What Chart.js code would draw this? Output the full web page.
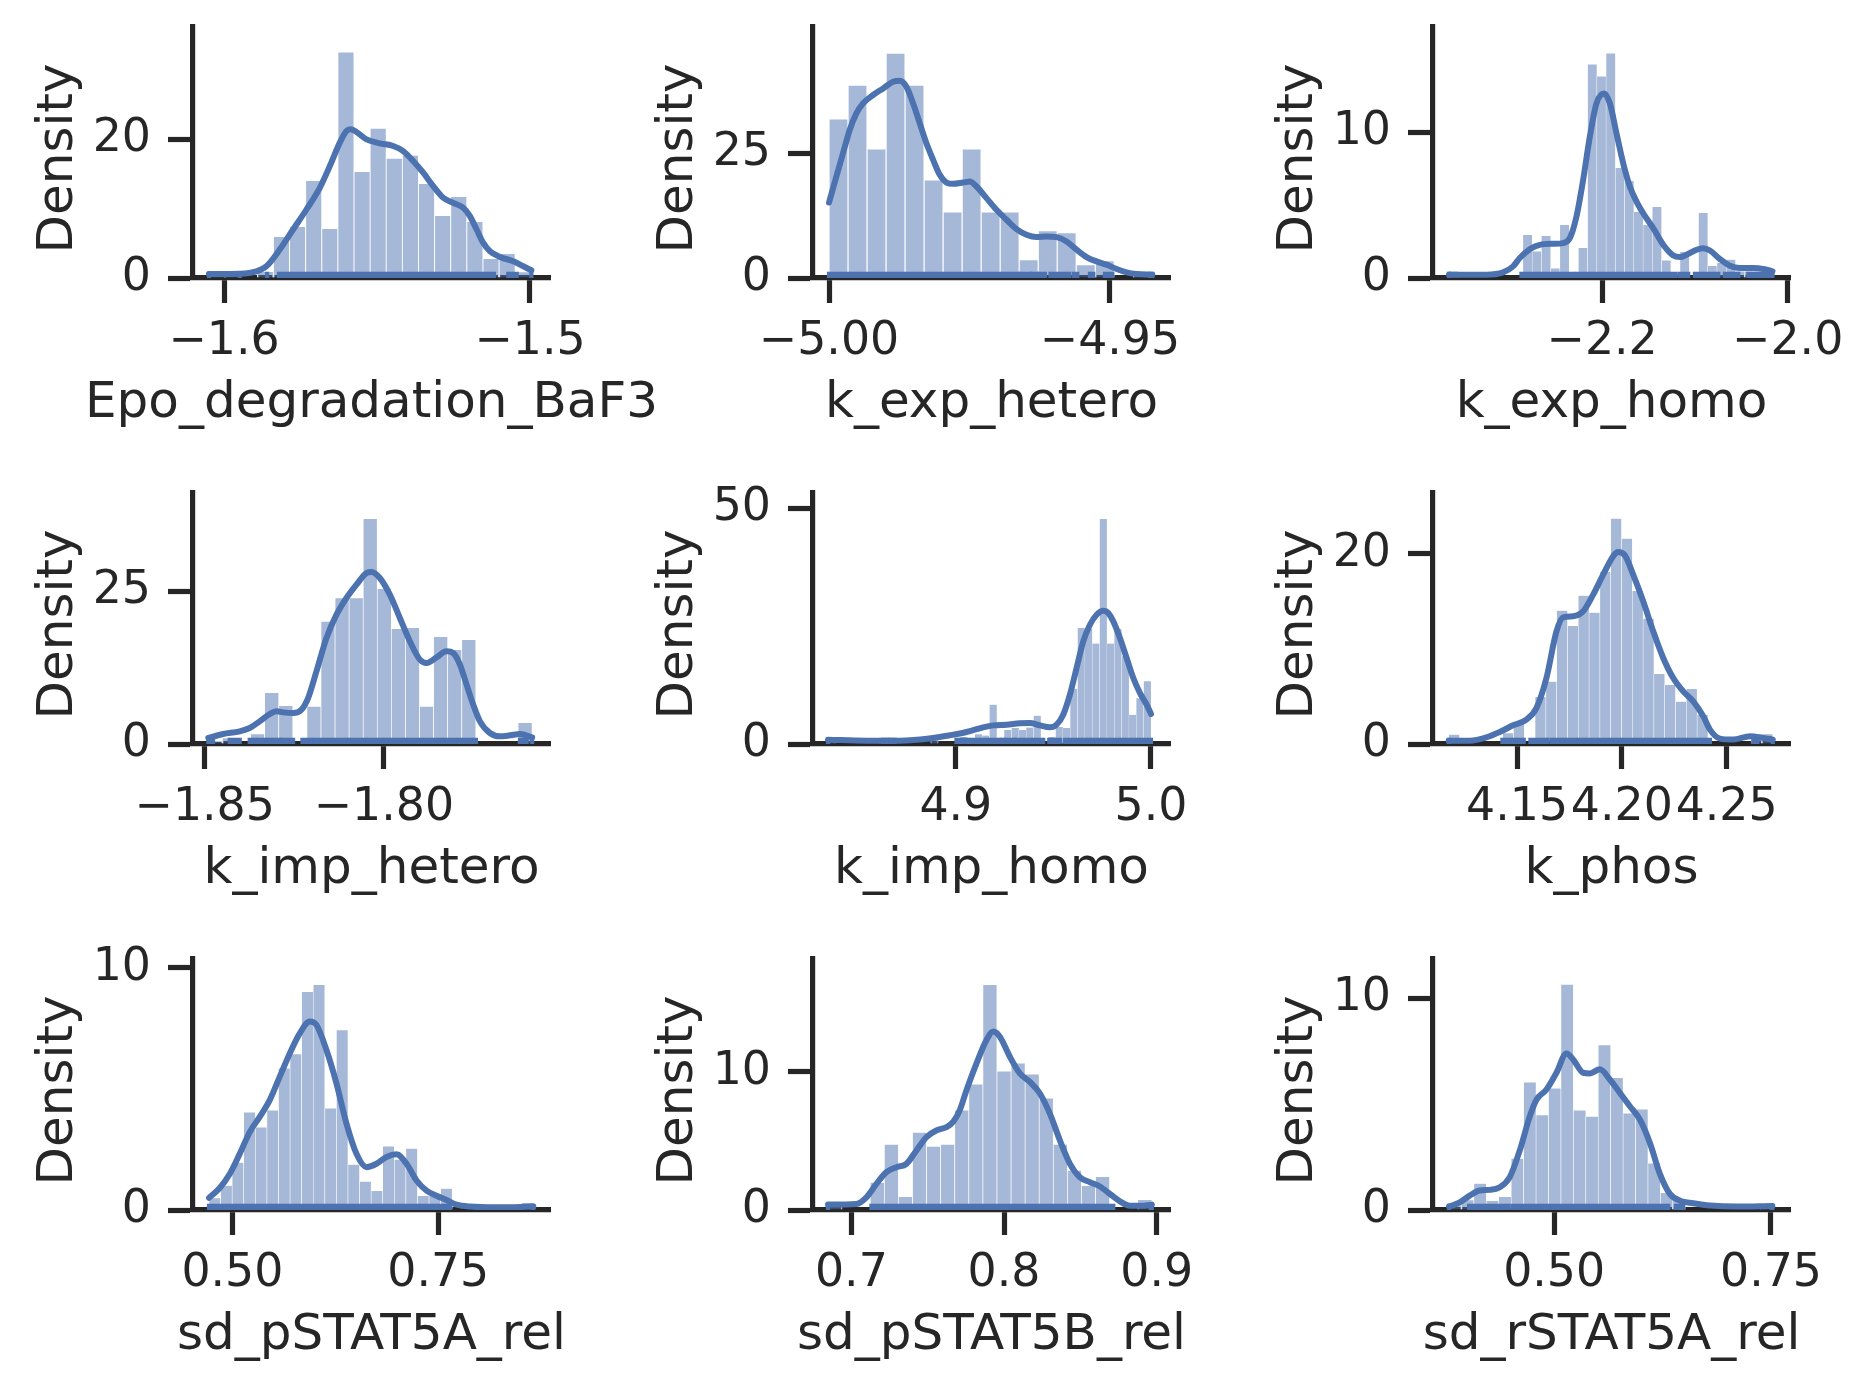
<!DOCTYPE html>
<html>
<head>
<meta charset="utf-8">
<script src="https://cdn.jsdelivr.net/npm/chart.js@4.4.1/dist/chart.umd.min.js"></script>
<style>
  html, body { margin: 0; padding: 0; background: #fff; }
  body { width: 1872px; height: 1391px; position: relative; overflow: hidden; }
  canvas { position: absolute; }
</style>
</head>
<body>
<script>
// ---- Epo_degradation_BaF3 ----
const epoBins = [-1.60493, 0.005268];          // first bin edge, bin width
const epoDensity = [0.93, 0.93, 0, 0.93, 5.98, 7.42, 14.07, 7.13, 32.58, 15.37, 21.59, 17.25, 17.69, 13.64, 9.01, 11.76, 8.14, 2.80, 3.52, 0.9];
const epoKdeX = [-1.60493, -1.59487, -1.58942, -1.58615, -1.58179, -1.57743, -1.57306, -1.56870, -1.56543, -1.56216, -1.55998, -1.55867, -1.55671, -1.55344, -1.54907, -1.54471, -1.54144, -1.53817, -1.53490, -1.53162, -1.52835, -1.52508, -1.52181, -1.51963, -1.51745, -1.51527, -1.51309, -1.50981, -1.50545, -1.50218, -1.49956];
const epoKdeY = [0.58, 0.63, 0.96, 1.69, 4.10, 6.99, 9.88, 13.01, 16.14, 19.52, 21.20, 21.45, 21.06, 20.0, 19.42, 19.04, 18.31, 16.87, 15.18, 13.25, 11.57, 10.84, 10.12, 8.92, 6.99, 5.06, 3.86, 3.04, 2.41, 1.69, 1.11];
const epoRug = [[-1.60493, -1.60493], [-1.59487, -1.59487], [-1.58593, -1.58593], [-1.58201, -1.51178], [-1.50709, -1.50436], [-1.49956, -1.49956]];
const epoXRange = [-1.61014, -1.49346];
const epoYMax = 36.2;
const epoXTicks = [-1.6, -1.5];
const epoXLabels = ['\u22121.6', '\u22121.5'];
const epoYTicks = [0, 20];

// ---- k_exp_hetero ----
const expHetBins = [-5.0, 0.003385];
const expHetDensity = [31.87, 38.67, 25.87, 45.07, 38.67, 19.67, 13.27, 25.87, 13.27, 13.27, 3.67, 9.47, 9.07, 2.67, 3.47, 0, 0.9];
const expHetKdeX = [-5.00000, -4.99869, -4.99751, -4.99632, -4.99513, -4.99394, -4.99216, -4.99038, -4.98860, -4.98741, -4.98622, -4.98504, -4.98385, -4.98266, -4.98147, -4.98029, -4.97910, -4.97791, -4.97613, -4.97494, -4.97375, -4.97197, -4.97019, -4.96841, -4.96663, -4.96485, -4.96306, -4.96128, -4.95950, -4.95772, -4.95594, -4.95416, -4.95238, -4.95059, -4.94881, -4.94703, -4.94525, -4.94246];
const expHetKdeY = [15.13, 20.33, 25.0, 29.67, 33.0, 35.0, 36.67, 38.0, 39.33, 39.53, 38.33, 35.0, 31.0, 27.0, 23.67, 20.67, 19.13, 18.87, 19.13, 19.33, 18.33, 16.0, 13.67, 11.67, 9.8, 8.67, 8.2, 8.33, 8.2, 7.33, 5.67, 4.2, 3.33, 2.67, 1.8, 1.13, 0.8, 0.67];
const expHetRug = [[-5.0, -4.96633], [-4.96591, -4.96425], [-4.96384, -4.96295], [-4.96259, -4.96158], [-4.96057, -4.95724], [-4.95641, -4.95582], [-4.95356, -4.95297], [-4.95089, -4.94958], [-4.94287, -4.94246]];
const expHetXRange = [-5.00285, -4.93931];
const expHetYMax = 50.3;
const expHetXTicks = [-5.0, -4.95];
const expHetXLabels = ['\u22125.00', '\u22124.95'];
const expHetYTicks = [0, 25];

// ---- k_exp_homo ----
const expHomBins = [-2.36511, 0.009964];
const expHomDensity = [0.45, 0, 0, 0, 0, 0, 0, 0, 2.97, 1.83, 2.90, 0.66, 3.65, 0, 2.08, 14.68, 13.86, 15.43, 7.56, 6.67, 4.54, 3.65, 4.89, 1.21, 0, 1.80, 0, 4.47, 0.84, 1.05, 1.26, 0.45, 0.45, 0.45, 0.45];
const expHomKdeX = [-2.36511, -2.32482, -2.30683, -2.29604, -2.28885, -2.27806, -2.26727, -2.25288, -2.24209, -2.23489, -2.22770, -2.22050, -2.21331, -2.20612, -2.19784, -2.19173, -2.18453, -2.17734, -2.17014, -2.16295, -2.15576, -2.14496, -2.13417, -2.12338, -2.11619, -2.10899, -2.09820, -2.09101, -2.08381, -2.07302, -2.06223, -2.05144, -2.03705, -2.02626, -2.01637];
const expHomKdeY = [0.23, 0.23, 0.39, 0.80, 1.37, 1.98, 2.28, 2.35, 2.40, 2.74, 4.22, 6.74, 9.70, 12.0, 12.67, 12.0, 9.93, 7.88, 6.28, 5.25, 4.45, 3.42, 2.28, 1.55, 1.44, 1.60, 1.94, 2.05, 1.89, 1.30, 0.84, 0.68, 0.68, 0.62, 0.46];
const expHomRug = [[-2.36511, -2.36511], [-2.28705, -2.23129], [-2.22770, -2.13417], [-2.13058, -2.12158], [-2.11691, -2.10719], [-2.10000, -2.07482], [-2.06763, -2.06223], [-2.05863, -2.05324], [-2.04245, -2.01637]];
const expHomXRange = [-2.38237, -1.99748];
const expHomYMax = 17.24;
const expHomXTicks = [-2.2, -2.0];
const expHomXLabels = ['\u22122.2', '\u22122.0'];
const expHomYTicks = [0, 10];

// ---- k_imp_hetero ----
const impHetBins = [-1.84898, 0.003929];
const impHetDensity = [0.5, 1.0, 0, 1.64, 8.41, 6.28, 0, 6.17, 20.09, 23.91, 23.91, 36.9, 25.44, 18.89, 19.05, 6.17, 17.58, 15.45, 17.09, 0, 0, 0, 3.49];
const impHetKdeX = [-1.84898, -1.84488, -1.84022, -1.83743, -1.83464, -1.83184, -1.82998, -1.82812, -1.82533, -1.82300, -1.82114, -1.81881, -1.81601, -1.81322, -1.81043, -1.80764, -1.80484, -1.80345, -1.80112, -1.79832, -1.79553, -1.79274, -1.78994, -1.78808, -1.78529, -1.78250, -1.78063, -1.77877, -1.77691, -1.77505, -1.77318, -1.77039, -1.76760, -1.76480, -1.76201, -1.75861];
const impHetKdeY = [0.98, 1.64, 2.07, 2.62, 3.71, 4.91, 5.35, 5.18, 5.07, 5.62, 7.53, 11.9, 17.36, 21.18, 23.91, 26.09, 28.0, 28.17, 27.18, 24.45, 20.63, 16.81, 13.81, 13.26, 14.19, 15.17, 14.9, 12.99, 9.72, 6.44, 3.71, 1.80, 1.26, 1.42, 1.64, 1.09];
const impHetRug = [[-1.84898, -1.84767], [-1.84302, -1.84022], [-1.83743, -1.83603], [-1.83510, -1.83324], [-1.83231, -1.82905], [-1.82831, -1.82533], [-1.82272, -1.82020], [-1.81927, -1.77430], [-1.76201, -1.76015], [-1.75861, -1.75861]];
const impHetXRange = [-1.85326, -1.75363];
const impHetYMax = 41.1;
const impHetXTicks = [-1.85, -1.80];
const impHetXLabels = ['\u22121.85', '\u22121.80'];
const impHetYTicks = [0, 25];

// ---- k_imp_homo ----
const impHomBins = [4.83453, 0.003761];
const impHomDensity = [1.33, 0, 0, 0, 0, 0, 0, 1.33, 1.33, 0, 0, 0, 0, 0, 1.77, 0, 0, 0, 1.5, 0, 2.1, 1.8, 8.33, 0, 3.0, 3.4, 3.0, 3.5, 6.0, 0, 1.5, 3.6, 3.4, 11.7, 24.6, 24.4, 21.3, 47.7, 21.3, 24.4, 18.6, 6.2, 9.7, 13.3];
const impHomKdeX = [4.83453, 4.85419, 4.87128, 4.88838, 4.89692, 4.90547, 4.91402, 4.91915, 4.92598, 4.93282, 4.93795, 4.94308, 4.94821, 4.95162, 4.95504, 4.95846, 4.96188, 4.96530, 4.96872, 4.97214, 4.97556, 4.97812, 4.98068, 4.98410, 4.98752, 4.99094, 4.99436, 4.99778, 5.0];
const impHomKdeY = [0.92, 0.71, 0.71, 1.27, 1.84, 2.54, 3.53, 3.95, 4.10, 4.38, 4.45, 3.95, 3.53, 4.10, 6.21, 10.45, 16.1, 21.75, 25.28, 27.4, 28.25, 27.75, 25.99, 22.46, 18.22, 13.98, 10.8, 8.33, 6.36];
const impHomRug = [[4.83453, 4.83453], [4.86274, 4.86479], [4.86650, 4.86872], [4.90034, 4.90376], [4.90462, 4.92256], [4.92342, 4.92462], [4.92564, 4.92974], [4.93077, 4.94479], [4.94786, 4.95333], [4.95590, 5.0]];
const impHomXRange = [4.82684, 5.00974];
const impHomYMax = 53.2;
const impHomXTicks = [4.9, 5.0];
const impHomXLabels = ['4.9', '5.0'];
const impHomYTicks = [0, 50];

// ---- k_phos ----
const phosBins = [4.11736, 0.005155];
const phosDensity = [1.0, 0, 0, 0, 0, 1.16, 2.31, 0, 4.97, 6.55, 14.01, 12.43, 15.59, 13.8, 18.11, 23.68, 21.58, 16.11, 13.17, 7.39, 6.23, 4.45, 5.81, 3.08, 0, 0, 0, 0, 1.05, 1.05];
const phosKdeX = [4.11736, 4.12739, 4.13535, 4.14172, 4.14809, 4.15446, 4.15924, 4.16401, 4.16879, 4.17197, 4.17675, 4.18153, 4.18631, 4.19108, 4.19586, 4.19825, 4.20143, 4.20541, 4.21019, 4.21497, 4.21975, 4.22452, 4.22930, 4.23408, 4.23885, 4.24204, 4.24682, 4.25318, 4.26115, 4.26752, 4.27201];
const phosKdeY = [0.35, 0.35, 0.70, 1.26, 1.96, 2.56, 3.78, 6.93, 11.84, 13.31, 13.42, 13.94, 15.69, 17.79, 19.72, 20.17, 19.82, 17.79, 14.99, 11.84, 9.04, 6.93, 5.53, 4.48, 2.91, 1.51, 0.56, 0.46, 0.81, 0.63, 0.46];
const phosRug = [[4.11736, 4.11736], [4.14299, 4.14682], [4.14841, 4.15318], [4.15637, 4.16433], [4.16640, 4.24204], [4.26274, 4.26465], [4.27201, 4.27201]];
const phosXRange = [4.10987, 4.28025];
const phosYMax = 26.37;
const phosXTicks = [4.15, 4.20, 4.25];
const phosXLabels = ['4.15', '4.20', '4.25'];
const phosYTicks = [0, 20];

// ---- sd_pSTAT5A_rel ----
const sdABins = [0.47164, 0.014064];
const sdADensity = [0.5, 1.01, 1.96, 4.04, 3.42, 4.12, 5.86, 6.45, 9.02, 9.31, 4.20, 7.44, 1.88, 1.18, 0.80, 2.63, 2.09, 2.54, 0.59, 0.59, 0.89, 0, 0, 0, 0, 0, 0, 0.3];
const sdAKdeX = [0.47164, 0.48460, 0.49676, 0.50891, 0.52107, 0.53323, 0.54538, 0.55754, 0.56969, 0.58185, 0.59400, 0.60211, 0.61426, 0.62642, 0.63857, 0.65073, 0.66288, 0.67504, 0.68720, 0.69935, 0.71151, 0.72366, 0.73582, 0.74797, 0.76013, 0.77229, 0.78849, 0.82091, 0.86543];
const sdAKdeY = [0.50, 0.91, 1.49, 2.32, 3.22, 3.85, 4.54, 5.51, 6.47, 7.30, 7.79, 7.65, 6.61, 5.23, 3.57, 2.32, 1.77, 1.91, 2.19, 2.30, 1.91, 1.22, 0.80, 0.59, 0.41, 0.22, 0.14, 0.11, 0.14];
const sdARug = [[0.47164, 0.76418], [0.86543, 0.86543]];
const sdAXRange = [0.45219, 0.88574];
const sdAYMax = 10.37;
const sdAXTicks = [0.5, 0.75];
const sdAXLabels = ['0.50', '0.75'];
const sdAYTicks = [0, 10];

// ---- sd_pSTAT5B_rel ----
const sdBBins = [0.68470, 0.009224];
const sdBDensity = [0.6, 0, 0, 1.99, 4.75, 0.97, 5.62, 4.60, 4.75, 7.22, 9.10, 16.30, 10.05, 10.63, 9.83, 8.09, 4.75, 2.86, 1.77, 2.42, 0, 0, 0.75];
const sdBKdeX = [0.68470, 0.70328, 0.70984, 0.71639, 0.72295, 0.72951, 0.73607, 0.74262, 0.74918, 0.75574, 0.76230, 0.76667, 0.77104, 0.77541, 0.78197, 0.78852, 0.79290, 0.79727, 0.80383, 0.81038, 0.81694, 0.82350, 0.83005, 0.83661, 0.84317, 0.84973, 0.85628, 0.86284, 0.86940, 0.87596, 0.88251, 0.89126, 0.89685];
const sdBKdeY = [0.39, 0.44, 0.92, 1.89, 2.74, 3.10, 3.34, 4.31, 5.28, 5.76, 6.00, 6.37, 7.22, 8.67, 10.61, 12.30, 12.91, 12.54, 11.09, 9.88, 9.27, 8.43, 6.97, 5.04, 3.34, 2.37, 2.01, 1.70, 1.16, 0.63, 0.31, 0.31, 0.39];
const sdBRug = [[0.68470, 0.68470], [0.71311, 0.87158], [0.89607, 0.89685]];
const sdBXRange = [0.67486, 0.90874];
const sdBYMax = 18.16;
const sdBXTicks = [0.7, 0.8, 0.9];
const sdBXLabels = ['0.7', '0.8', '0.9'];
const sdBYTicks = [0, 10];

// ---- sd_rSTAT5A_rel ----
const sdRBins = [0.37885, 0.014335];
const sdRDensity = [0.22, 0.47, 1.25, 0.44, 0.63, 2.43, 6.03, 4.49, 5.75, 10.65, 4.71, 4.42, 7.79, 6.24, 4.57, 4.76, 2.21, 0.82, 0.47, 0, 0, 0, 0, 0, 0, 0.22];
const sdRKdeX = [0.37885, 0.39115, 0.40269, 0.41423, 0.42577, 0.43731, 0.44885, 0.46038, 0.47192, 0.47962, 0.49115, 0.50269, 0.51423, 0.52192, 0.53346, 0.54115, 0.55269, 0.56423, 0.57577, 0.58731, 0.59885, 0.61038, 0.62192, 0.63346, 0.64500, 0.66038, 0.67962, 0.71038, 0.75156];
const sdRKdeY = [0.16, 0.36, 0.68, 0.92, 0.95, 1.07, 1.55, 2.81, 4.42, 5.21, 5.69, 6.48, 7.39, 7.11, 6.48, 6.45, 6.64, 6.16, 5.53, 4.90, 4.27, 3.17, 1.71, 0.76, 0.44, 0.32, 0.21, 0.16, 0.19];
const sdRRug = [[0.37885, 0.37885], [0.40192, 0.44692], [0.45192, 0.63154], [0.64038, 0.64885], [0.75077, 0.75156]];
const sdRXRange = [0.36038, 0.77192];
const sdRYMax = 11.85;
const sdRXTicks = [0.5, 0.75];
const sdRXLabels = ['0.50', '0.75'];
const sdRYTicks = [0, 10];

// ---- styling / layout ----
const INK = '#262626';
const BLUE = '#4c72b0';
const BAR_FILL = 'rgba(76, 114, 176, 0.5)';
const FONT = 'DejaVu Sans';

const colLeft = [193, 813, 1433];
const rowTop = [27, 493, 959];
const AX_W = 357, AX_H = 251;
const Y_W = 175, PAD_T = 60, PAD_R = 140, X_H = 170;

const panels = [
  { label: 'Epo_degradation_BaF3', bins: epoBins, dens: epoDensity, kx: epoKdeX, ky: epoKdeY, rug: epoRug, xr: epoXRange, ymax: epoYMax, xt: epoXTicks, xl: epoXLabels, yt: epoYTicks, edge: 0.8 },
  { label: 'k_exp_hetero', bins: expHetBins, dens: expHetDensity, kx: expHetKdeX, ky: expHetKdeY, rug: expHetRug, xr: expHetXRange, ymax: expHetYMax, xt: expHetXTicks, xl: expHetXLabels, yt: expHetYTicks, edge: 0.95 },
  { label: 'k_exp_homo', bins: expHomBins, dens: expHomDensity, kx: expHomKdeX, ky: expHomKdeY, rug: expHomRug, xr: expHomXRange, ymax: expHomYMax, xt: expHomXTicks, xl: expHomXLabels, yt: expHomYTicks, edge: 0.5 },
  { label: 'k_imp_hetero', bins: impHetBins, dens: impHetDensity, kx: impHetKdeX, ky: impHetKdeY, rug: impHetRug, xr: impHetXRange, ymax: impHetYMax, xt: impHetXTicks, xl: impHetXLabels, yt: impHetYTicks, edge: 0.7 },
  { label: 'k_imp_homo', bins: impHomBins, dens: impHomDensity, kx: impHomKdeX, ky: impHomKdeY, rug: impHomRug, xr: impHomXRange, ymax: impHomYMax, xt: impHomXTicks, xl: impHomXLabels, yt: impHomYTicks, edge: 0.4 },
  { label: 'k_phos', bins: phosBins, dens: phosDensity, kx: phosKdeX, ky: phosKdeY, rug: phosRug, xr: phosXRange, ymax: phosYMax, xt: phosXTicks, xl: phosXLabels, yt: phosYTicks, edge: 0.55 },
  { label: 'sd_pSTAT5A_rel', bins: sdABins, dens: sdADensity, kx: sdAKdeX, ky: sdAKdeY, rug: sdARug, xr: sdAXRange, ymax: sdAYMax, xt: sdAXTicks, xl: sdAXLabels, yt: sdAYTicks, edge: 0.6 },
  { label: 'sd_pSTAT5B_rel', bins: sdBBins, dens: sdBDensity, kx: sdBKdeX, ky: sdBKdeY, rug: sdBRug, xr: sdBXRange, ymax: sdBYMax, xt: sdBXTicks, xl: sdBXLabels, yt: sdBYTicks, edge: 0.7 },
  { label: 'sd_rSTAT5A_rel', bins: sdRBins, dens: sdRDensity, kx: sdRKdeX, ky: sdRKdeY, rug: sdRRug, xr: sdRXRange, ymax: sdRYMax, xt: sdRXTicks, xl: sdRXLabels, yt: sdRYTicks, edge: 0.6 },
];

// rug ticks along the bottom of the axes (2.5% of axes height)
function rugPlugin(ranges) {
  return {
    id: 'rug',
    afterDatasetsDraw(chart) {
      const { ctx, chartArea: a, scales: { x } } = chart;
      const h = (a.bottom - a.top) * 0.025;
      ctx.save();
      ctx.beginPath();
      ctx.rect(a.left, a.top, a.right - a.left, a.bottom - a.top);
      ctx.clip();
      ctx.fillStyle = BLUE;
      ranges.forEach(([lo, hi]) => {
        const x1 = x.getPixelForValue(lo) - 2.1;
        const x2 = x.getPixelForValue(hi) + 2.1;
        ctx.fillRect(x1, a.bottom - h, x2 - x1, h);
      });
      ctx.restore();
    }
  };
}

// axis labels drawn by hand (Chart.js would squeeze the long x labels to the axis width)
function axisLabelPlugin(text) {
  return {
    id: 'axisLabels',
    afterDraw(chart) {
      const { ctx, chartArea: a } = chart;
      ctx.save();
      ctx.font = '50px "' + FONT + '"';
      ctx.fillStyle = INK;
      ctx.textAlign = 'center';
      ctx.textBaseline = 'alphabetic';
      ctx.fillText(text, (a.left + a.right) / 2, a.bottom + 139);
      ctx.translate(a.left - 134, (a.top + a.bottom) / 2 + 6);
      ctx.rotate(-Math.PI / 2);
      ctx.textBaseline = 'middle';
      ctx.fillText('Density', 0, 0);
      ctx.restore();
    }
  };
}

const tickFont = { family: FONT, size: 45.8 };
const gridOpts = { display: true, offset: false, drawOnChartArea: false, drawTicks: true, tickLength: 25, tickWidth: 5.2, tickColor: INK };
const borderOpts = { display: true, color: INK, width: 5.2 };

panels.forEach((p, i) => {
  const r = Math.floor(i / 3), c = i % 3;
  const canvas = document.createElement('canvas');
  canvas.width = Y_W + AX_W + PAD_R;
  canvas.height = PAD_T + AX_H + X_H;
  canvas.style.left = (colLeft[c] - Y_W) + 'px';
  canvas.style.top = (rowTop[r] - PAD_T) + 'px';
  document.body.appendChild(canvas);

  const bars = p.dens.map((h, k) => ({ x: p.bins[0] + p.bins[1] * (k + 0.5), y: h }));
  const kde = p.kx.map((x, k) => ({ x: x, y: p.ky[k] }));

  new Chart(canvas, {
    type: 'bar',
    data: {
      datasets: [
        {
          type: 'bar', data: bars, order: 2,
          backgroundColor: BAR_FILL, borderColor: '#ffffff', borderWidth: p.edge,
          borderSkipped: 'start', barPercentage: 1, categoryPercentage: 1
        },
        {
          type: 'line', data: kde, order: 1,
          borderColor: BLUE, borderWidth: 6, pointRadius: 0, fill: false,
          cubicInterpolationMode: 'monotone', borderCapStyle: 'round'
        }
      ]
    },
    options: {
      responsive: false,
      animation: false,
      devicePixelRatio: 1,
      events: [],
      layout: { padding: { top: PAD_T, right: PAD_R, left: 0, bottom: 0 } },
      plugins: { legend: { display: false }, tooltip: { enabled: false } },
      scales: {
        x: {
          type: 'linear', min: p.xr[0], max: p.xr[1], z: 1, offset: false,
          afterFit: s => { s.height = X_H; },
          afterBuildTicks: s => { s.ticks = p.xt.map(v => ({ value: v })); },
          ticks: {
            autoSkip: false, maxRotation: 0, minRotation: 0, padding: 12,
            color: INK, font: tickFont,
            callback: (v, k) => p.xl[k]
          },
          grid: gridOpts,
          border: borderOpts
        },
        y: {
          type: 'linear', min: 0, max: p.ymax, z: 1, offset: false,
          afterFit: s => { s.width = Y_W; },
          afterBuildTicks: s => { s.ticks = p.yt.map(v => ({ value: v })); },
          ticks: { padding: 17, color: INK, font: tickFont, callback: v => String(v) },
          grid: gridOpts,
          border: borderOpts
        }
      }
    },
    plugins: [rugPlugin(p.rug), axisLabelPlugin(p.label)]
  });
});
</script>
</body>
</html>
